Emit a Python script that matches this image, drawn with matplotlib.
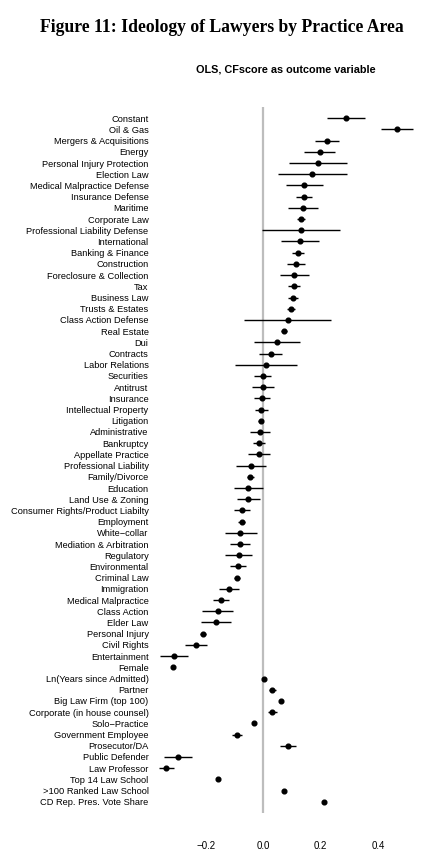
import numpy as np
from matplotlib import pyplot as plt

labels = ['Constant', 'Oil & Gas', 'Mergers & Acquisitions', 'Energy',
          'Personal Injury Protection', 'Election Law', 'Medical Malpractice Defense',
          'Insurance Defense', 'Maritime', 'Corporate Law', 'Professional Liability Defense',
          'International', 'Banking & Finance', 'Construction', 'Foreclosure & Collection',
          'Tax', 'Business Law', 'Trusts & Estates', 'Class Action Defense', 'Real Estate',
          'Dui', 'Contracts', 'Labor Relations', 'Securities', 'Antitrust', 'Insurance',
          'Intellectual Property', 'Litigation', 'Administrative', 'Bankruptcy',
          'Appellate Practice', 'Professional Liability', 'Family/Divorce', 'Education',
          'Land Use & Zoning', 'Consumer Rights/Product Liabilty', 'Employment',
          'White\u2212collar', 'Mediation & Arbitration', 'Regulatory', 'Environmental',
          'Criminal Law', 'Immigration', 'Medical Malpractice', 'Class Action', 'Elder Law',
          'Personal Injury', 'Civil Rights', 'Entertainment', 'Female',
          'Ln(Years since Admitted)', 'Partner', 'Big Law Firm (top 100)',
          'Corporate (in house counsel)', 'Solo\u2212Practice', 'Government Employee',
          'Prosecutor/DA', 'Public Defender', 'Law Professor', 'Top 14 Law School',
          '>100 Ranked Law School', 'CD Rep. Pres. Vote Share']

coef = [0.289, 0.466, 0.221, 0.198, 0.192, 0.170, 0.143, 0.142, 0.137, 0.133, 0.130,
        0.127, 0.121, 0.113, 0.108, 0.107, 0.103, 0.096, 0.085, 0.071, 0.047, 0.026,
        0.008, -0.002, -0.002, -0.005, -0.007, -0.009, -0.012, -0.015, -0.016, -0.043,
        -0.045, -0.052, -0.052, -0.074, -0.075, -0.080, -0.082, -0.086, -0.089, -0.091,
        -0.119, -0.148, -0.159, -0.165, -0.210, -0.235, -0.313, -0.315, 0.003, 0.031,
        0.063, 0.030, -0.034, -0.092, 0.086, -0.298, -0.340, -0.158, 0.073, 0.212]

lower = [0.223, 0.410, 0.179, 0.143, 0.090, 0.052, 0.079, 0.115, 0.086, 0.118, -0.003,
         0.062, 0.100, 0.084, 0.058, 0.087, 0.085, 0.084, -0.066, 0.062, -0.031, -0.015,
         -0.100, -0.031, -0.041, -0.031, -0.029, -0.017, -0.045, -0.036, -0.053, -0.094,
         -0.058, -0.101, -0.092, -0.102, -0.088, -0.135, -0.116, -0.133, -0.115, -0.101,
         -0.154, -0.175, -0.214, -0.216, -0.221, -0.272, -0.360, -0.320, -0.001, 0.020,
         0.057, 0.015, -0.038, -0.108, 0.059, -0.345, -0.365, -0.162, 0.069, 0.207]

upper = [0.354, 0.524, 0.263, 0.250, 0.293, 0.291, 0.209, 0.170, 0.192, 0.147, 0.267,
         0.195, 0.143, 0.144, 0.158, 0.128, 0.120, 0.110, 0.237, 0.082, 0.128, 0.066,
         0.119, 0.028, 0.036, 0.023, 0.015, -0.001, 0.024, 0.007, 0.023, 0.008,
         -0.032, -0.001, -0.013, -0.047, -0.063, -0.023, -0.046, -0.039, -0.061, -0.080,
         -0.084, -0.120, -0.105, -0.114, -0.200, -0.198, -0.263, -0.310, 0.007, 0.043,
         0.069, 0.047, -0.030, -0.074, 0.114, -0.250, -0.313, -0.154, 0.077, 0.217]

coef = np.array(coef)
lower = np.array(lower)
upper = np.array(upper)
ypos = np.arange(len(labels))

fig = plt.figure(figsize=(4.44, 8.6), dpi=100)
fig.text(0.5, 1 - 27 / 860, 'Figure 11: Ideology of Lawyers by Practice Area',
         ha='center', va='center', fontsize=12.7, fontweight='bold', family='Liberation Serif')
fig.text(285.7 / 444, 1 - 69 / 860, 'OLS, CFscore as outcome variable',
         ha='center', va='center', fontsize=7.8, fontweight='bold', family='Liberation Sans')

ax = fig.add_axes([150 / 444, 1 - 813 / 860, 290 / 444, 706 / 860])
ax.axvline(0, color='#bdbdbd', lw=1.6, zorder=0)
ax.hlines(ypos, lower, upper, color='black', lw=1.0)
ax.plot(coef, ypos, 'o', color='black', markersize=3.4)

ax.set_xlim((150 - 263.3) / 286.5, (440 - 263.3) / 286.5)
ax.set_ylim(62.0, -1.0)
ax.set_yticks(ypos)
ax.set_yticklabels(labels, family='Liberation Sans', fontsize=6.7)
ax.set_xticks([-0.2, 0.0, 0.2, 0.4])
ax.set_xticklabels(['\u22120.2', '0.0', '0.2', '0.4'], family='Liberation Sans', fontsize=7)
ax.tick_params(axis='y', length=0, pad=1)
ax.tick_params(axis='x', length=0, pad=20)
for s in ax.spines.values():
    s.set_visible(False)

plt.savefig('out.png', dpi=100)
